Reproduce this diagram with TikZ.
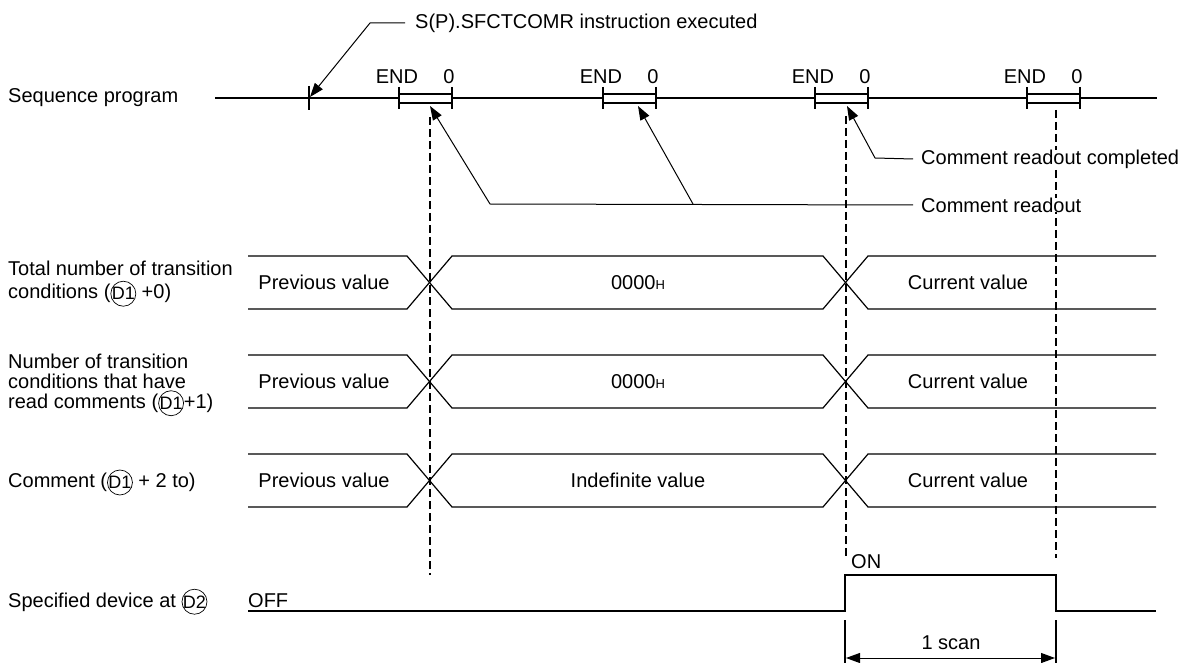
\documentclass[tikz,border=0pt]{standalone}
\usepackage{fontspec}
\setmainfont{Liberation Sans}
\usetikzlibrary{arrows.meta,calc,positioning}

\newcommand{\opD}[1]{\tikz[baseline={([yshift=1pt]dv.base)}]\node[circle,draw,line width=0.7pt,inner sep=0pt,minimum size=25pt,font=\fontsize{18}{18}\selectfont] (dv) {\makebox[0pt]{D#1}};}
\newcommand{\hsub}{{\fontsize{13}{13}\selectfont H}}

\begin{document}
\begin{tikzpicture}[x=1pt,y=-1pt,
  every node/.style={font=\fontsize{20}{23}\selectfont},
  sig/.style={line width=1.2pt},
  guide/.style={line width=1.6pt,dash pattern=on 8pt off 4pt},
  lead/.style={line width=1pt},
  tip/.style={-{Triangle[length=14pt,width=10pt]}},
  lbl/.style={anchor=west,inner sep=0pt,align=left}]
\useasboundingbox (0,0) rectangle (1181,663);

\draw[guide] (430,117) -- (430,575);
\draw[guide] (846,116) -- (846,558);
\draw[guide] (1056,110) -- (1056,558);

\node[lbl] (seq) at (8,98) {Sequence program};
\draw[sig] (215,98) -- (1157,98);
\draw[sig] (309,86) -- (309,110);
\foreach \x [count=\i] in {399,603,815,1027}{
  \draw[sig,fill=white] (\x,94) rectangle (\x+53,103);
  \draw[sig] (\x,87) -- (\x,109) (\x+53,87) -- (\x+53,109);
  \node (end\i) at (\x-2,77) {END};
  \node (zero\i) at (\x+50,77) {0};
}

\node[lbl] (cmd) at (415,23) {S(P).SFCTCOMR instruction executed};
\node[lbl,fill=white] (done) at (921,159) {Comment readout completed};
\node[lbl,fill=white] (rdo) at (921,205) {Comment readout};
\coordinate (exe) at (310,97);
\coordinate (hit1) at (430,106);
\coordinate (hit2) at (638,106);
\coordinate (hit3) at (847,106);
\draw[lead,tip] ([xshift=-10pt]cmd.west) -- (370,23) -- (exe);
\draw[lead,tip] ([xshift=-8pt]done.west) -- (875,158) -- (hit3);
\draw[lead,tip] ([xshift=-8pt]rdo.west) -- (490,204) -- (hit1);
\draw[lead,tip] (693,204) -- (hit2);

\foreach \m/\v [count=\r] in {282.5/0000\hsub,381.5/0000\hsub,480.5/Indefinite value}{
  \draw[sig] (248,\m-26.5) -- (407,\m-26.5) -- (452,\m+26.5) -- (823,\m+26.5) -- (868,\m-26.5) -- (1156,\m-26.5);
  \draw[sig] (248,\m+26.5) -- (407,\m+26.5) -- (452,\m-26.5) -- (823,\m-26.5) -- (868,\m+26.5) -- (1156,\m+26.5);
  \node (prev\r) at (324,\m) {Previous value};
  \node (mid\r) at (638,\m) {\v};
  \node (cur\r) at (968,\m) {Current value};
}
\node[lbl] (tot) at (8,284) {Total number of transition\\conditions (\opD{1} +0)};
\node[lbl,font=\fontsize{20}{20}\selectfont] (num) at (8,385) {Number of transition\\conditions that have\\read comments (\opD{1}+1)};
\node[lbl] (cmt) at (8,482.5) {Comment (\opD{1} + 2 to)};

\node[anchor=base west,inner sep=0pt] (dev) at (8,607) {Specified device at \opD{2}};
\draw[sig] (248,611) -- (845,611) -- (845,575) -- (1056,575) -- (1056,611) -- (1156,611);
\node[anchor=base west,inner sep=0pt] (off) at (248,607) {OFF};
\node[anchor=base west,inner sep=0pt] (on) at (851,568) {ON};

\draw[sig] (845,620) -- (845,663) (1056,620) -- (1056,663);
\coordinate (sL) at (846,658);
\coordinate (sR) at (1055,658);
\draw[lead,{Triangle[length=14pt,width=10pt]}-{Triangle[length=14pt,width=10pt]}] (sL) -- (sR);
\node (scan) at (951,643) {1 scan};
\end{tikzpicture}
\end{document}
